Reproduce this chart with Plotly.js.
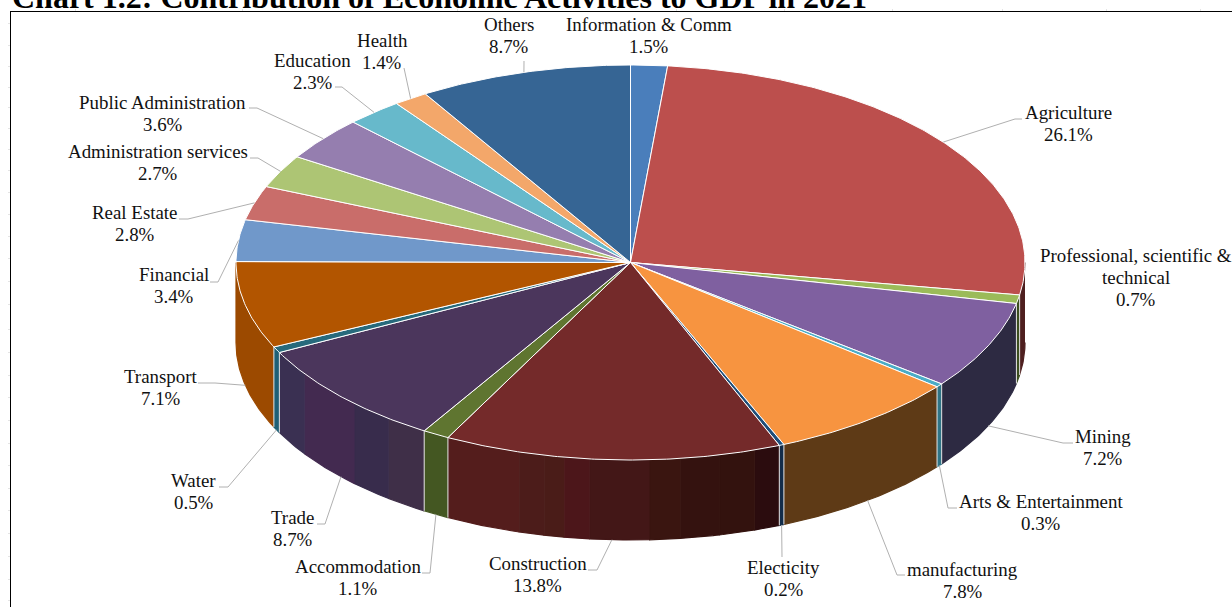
<!DOCTYPE html>
<html>
<head>
<meta charset="utf-8">
<script src="https://cdn.plot.ly/plotly-3.0.1.min.js"></script>
<style>html,body{margin:0;padding:0;background:#fff;overflow:hidden}#chart{width:1232px;height:607px}</style>
</head>
<body>
<div id="chart"></div>
<script>
// Sector names and their share of GDP, clockwise from twelve o'clock.
const categories = ['Information & Comm', 'Agriculture', 'Professional, scientific &|technical', 'Mining',
  'Arts & Entertainment', 'manufacturing', 'Electicity', 'Construction', 'Accommodation', 'Trade', 'Water',
  'Transport', 'Financial', 'Real Estate', 'Administration services', 'Public Administration', 'Education',
  'Health', 'Others'];
const shares = [1.5, 26.1, 0.7, 7.2, 0.3, 7.8, 0.2, 13.8, 1.1, 8.7, 0.5, 7.1, 3.4, 2.8, 2.7, 3.6, 2.3, 1.4, 8.7];

// Face colours of the upper surface.
const topColors = ['#4a7ebb', '#bc4f4d', '#9bbb59', '#7f60a0', '#4bacc6', '#f79440', '#1f4e79', '#742a2a', '#5f7530',
  '#4b365c', '#276a7c', '#b25500', '#7098ca', '#c96d6a', '#adc574', '#957eaf', '#67b9cb', '#f3a76a', '#366594'];

// Rim colours; a list of [colour, end fraction] paints a banded rim.
const rimColors = {
  Agriculture: '#4e1f1f', 'Professional, scientific &|technical': '#3d4f20', Mining: '#2d2a42',
  'Arts & Entertainment': '#2f7486', manufacturing: '#5e3a16', Electicity: '#122c4a',
  Construction: [['#2b0c0e', .076], ['#33120e', .183], ['#34120f', .3], ['#3a1510', .39], ['#431717', .565],
    ['#4c161a', .64], ['#4a1c18', .7], ['#4c1c1a', .775], ['#541d1c', 1]],
  Accommodation: '#445722',
  Trade: [['#3f2f48', .2], ['#382c4c', .41], ['#432a50', .77], ['#3a3052', 1]],
  Water: '#1f6075', Transport: '#9c4a00'
};

// Label placement: centre of the text block, then leader-line knee and tail (null when absent).
const labelX = [648.5, 1068.5, 1135.5, 1102.5, 1040.5, 962.5, 783.5, 537.5, 357.5, 292.5, 193.5, 160.5, 173.5, 134.5, 157.5, 162.5, 312.5, 382, 508.5];
const labelY = [36, 124, 278, 448, 513, 581, 579, 575, 578, 529, 492, 388, 286, 224, 163, 114, 72, 52, 36];
const kneeX = [null, 1015, null, 1063, 948, 897, 782, 597, 430, 325, 228, 215, 218, 188, 258, 257, 342, 404, 524];
const kneeY = [null, 119, null, 443, 508, 575, 557, 570, 573, 524, 487, 383, 282, 219, 158, 108, 87, 68, 61];
const tailX = [null, 1022, null, 1073, 957, 905, null, 588, 422, 317, 219, 198, 210, 179, 250, 249, 335, null, null];
const tailY = [null, 119, null, 443, 508, 575, null, 570, 573, 524, 487, 383, 282, 219, 158, 108, 87, null, null];

// Faint ruler ticks around the frame.
const leftTicks = [23, 45, 66, 87, 107, 128, 149, 170, 192, 214, 236, 258, 281, 304, 329, 352, 375, 397, 420, 443, 465, 488, 510, 533, 556, 579, 600];
const topTicks = [75, 242, 457, 676, 784, 892, 1002, 1106, 1200];

// Disc geometry in plot units.
const cx = 630.5, cy = 262.5, rx = 394.5, ry = 197.5, depth = 80;
const total = shares.reduce((a, b) => a + b, 0);
const rad = d => d * Math.PI / 180;
const px = a => cx + rx * Math.sin(rad(a));
const py = (a, dz = 0) => cy - ry * Math.cos(rad(a)) + dz;
function arc(a0, a1, dz = 0) {
  const n = Math.max(2, Math.ceil(Math.abs(a1 - a0) / 0.5));
  const xs = [], ys = [];
  for (let i = 0; i <= n; i++) {
    const a = a0 + (a1 - a0) * i / n;
    xs.push(px(a)); ys.push(py(a, dz));
  }
  return [xs, ys];
}

const starts = [], ends = [];
shares.reduce((acc, s, i) => {
  starts[i] = acc / total * 360;
  ends[i] = (acc + s) / total * 360;
  return acc + s;
}, 0);

const traces = [];

// Visible rim: only the front half of the disc, 90 to 270 degrees.
categories.forEach((name, i) => {
  const lo = Math.max(starts[i], 90), hi = Math.min(ends[i], 270);
  if (hi <= lo) return;
  const spec = rimColors[name];
  const bands = Array.isArray(spec) ? spec : [[spec, 1]];
  let prev = 0;
  bands.forEach(([color, end]) => {
    const a0 = lo + (hi - lo) * prev, a1 = lo + (hi - lo) * end;
    const [tx, ty] = arc(a0, a1), [bx, by] = arc(a1, a0, depth);
    traces.push({
      x: tx.concat(bx), y: ty.concat(by), mode: 'lines', fill: 'toself', fillcolor: color,
      line: {color: color, width: 1.2}, hoverinfo: 'skip', showlegend: false
    });
    prev = end;
  });
});

// Pale seams between neighbouring rim sections.
const seamX = [], seamY = [];
ends.forEach(a => {
  if (a > 90 && a < 270) { seamX.push(px(a), px(a), null); seamY.push(py(a), py(a, depth), null); }
});
traces.push({x: seamX, y: seamY, mode: 'lines', line: {color: '#e6e6e6', width: 1}, hoverinfo: 'skip', showlegend: false});

// Upper surface wedges.
categories.forEach((name, i) => {
  const [ax, ay] = arc(starts[i], ends[i]);
  traces.push({
    x: [cx].concat(ax, [cx]), y: [cy].concat(ay, [cy]), mode: 'lines', fill: 'toself', fillcolor: topColors[i],
    line: {color: '#ffffff', width: 1}, name: name.replace('|', ' '), text: shares[i].toFixed(1) + '%',
    hoverinfo: 'name+text', showlegend: false
  });
});

// Leader lines run from each wedge's middle to its label.
const leadX = [], leadY = [];
categories.forEach((name, i) => {
  if (kneeX[i] === null) return;
  const mid = (starts[i] + ends[i]) / 2;
  const front = mid > 90 && mid < 270;
  leadX.push(px(mid), kneeX[i]); leadY.push(py(mid, front ? depth : 0), kneeY[i]);
  if (tailX[i] !== null) { leadX.push(tailX[i]); leadY.push(tailY[i]); }
  leadX.push(null); leadY.push(null);
});
traces.push({x: leadX, y: leadY, mode: 'lines', line: {color: '#b0b0b0', width: 1}, hoverinfo: 'skip', showlegend: false});

// Each label line is its own annotation so the leading stays tight.
const lineGap = 22;
const annotations = [];
categories.forEach((name, i) => {
  const lines = name.split('|').concat(shares[i].toFixed(1) + '%');
  lines.forEach((text, k) => {
    annotations.push({
      x: labelX[i], y: labelY[i] - 0.5 + (k - (lines.length - 1) / 2) * lineGap, xref: 'x', yref: 'y', text: text,
      showarrow: false, xanchor: 'center', yanchor: 'middle',
      font: {family: '"Liberation Serif", serif', size: 18.9, color: '#111111'}
    });
  });
});

const layout = {
  width: 1232, height: 607, paper_bgcolor: '#ffffff', plot_bgcolor: '#ffffff',
  margin: {l: 11, r: 0, t: 12, b: 0}, showlegend: false,
  title: {
    text: '<b>Chart 1.2: Contribution of Economic Activities to GDP in 2021</b>',
    x: 1 / 1221, xanchor: 'left', xref: 'paper', y: 1 - 7.5 / 607, yanchor: 'bottom', yref: 'container',
    font: {family: '"Liberation Serif", serif', size: 32, color: '#000000'}
  },
  xaxis: {
    range: [11, 1232], side: 'top', showline: true, linecolor: '#000000', linewidth: 1, mirror: false,
    showgrid: false, zeroline: false, ticks: 'outside', ticklen: 2, tickcolor: '#e4e4e4',
    tickmode: 'array', tickvals: topTicks, showticklabels: false, fixedrange: true
  },
  yaxis: {
    range: [607, 12], showline: true, linecolor: '#000000', linewidth: 1, showgrid: false, zeroline: false,
    ticks: 'outside', ticklen: 2, tickcolor: '#e4e4e4', tickmode: 'array', tickvals: leftTicks,
    showticklabels: false, fixedrange: true
  },
  annotations: annotations
};
Plotly.newPlot('chart', traces, layout, {displayModeBar: false, staticPlot: false});
</script>
</body>
</html>
